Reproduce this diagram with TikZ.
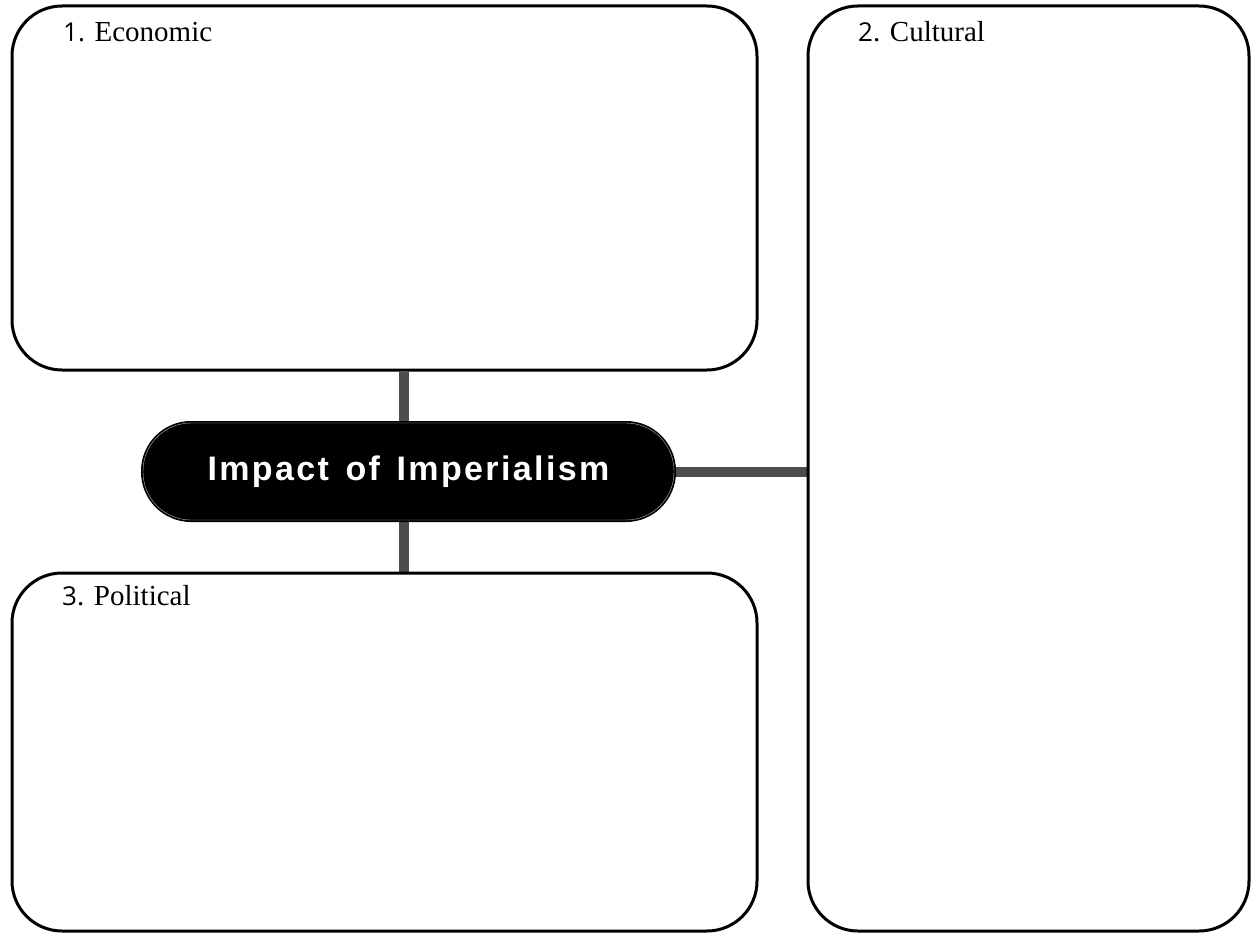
\documentclass[tikz,border=0pt]{standalone}
\usepackage{fontspec}
\setmainfont{Liberation Serif}
\setsansfont{Open Sans}
\newfontfamily\titlefont[LetterSpace=7,WordSpace=1.4]{Liberation Sans}
\usetikzlibrary{backgrounds}
\definecolor{linkgray}{HTML}{4D4D4D}

\begin{document}
\begin{tikzpicture}[x=1pt,y=-1pt,
  box/.style={draw=black, line width=3pt, fill=white, rounded corners=50pt, inner sep=0pt},
  hub/.style={fill=black, draw=gray!55, line width=0.4pt, rounded corners=48pt,
    preaction={draw=black, line width=4pt},
    text=white, inner sep=0pt, font=\titlefont\bfseries\fontsize{34}{40}\selectfont},
  link/.style={draw=linkgray, line width=10pt},
  boxlabel/.style={anchor=base west, inner sep=0pt, font=\fontsize{29}{34}\selectfont}]
\useasboundingbox (0,0) rectangle (1251,934);
% the three answer boxes
\node [box, minimum width=745pt, minimum height=364pt] (econ) at (384.5,188) {};
\node [box, minimum width=441pt, minimum height=925pt] (cult) at (1028.5,468.5) {};
\node [box, minimum width=745pt, minimum height=358pt] (pol) at (384.5,752) {};
% titles of the boxes
\node [boxlabel] (econlabel) at (63,42) {{\sffamily\fontsize{26}{32}\selectfont 1.} Economic};
\node [boxlabel] (cultlabel) at (858,42) {{\sffamily\fontsize{26}{32}\selectfont 2}. Cultural};
\node [boxlabel] (pollabel) at (62,605) {{\sffamily\fontsize{26}{32}\selectfont 3}. Political};
% centre
\node [hub, minimum width=531pt, minimum height=97pt] (hub) at (408.5,471.5) {Impact of Imperialism};
\begin{scope}[on background layer]
\draw [link] ([xshift=-4.5pt]hub.north) -- ([xshift=-4.5pt]hub.north |- econ.south);
\draw [link] ([xshift=-4.5pt]hub.south) -- ([xshift=-4.5pt]hub.south |- pol.north);
\draw [link] (hub.east) -- (hub.east -| cult.west);
\end{scope}
\end{tikzpicture}
\end{document}
